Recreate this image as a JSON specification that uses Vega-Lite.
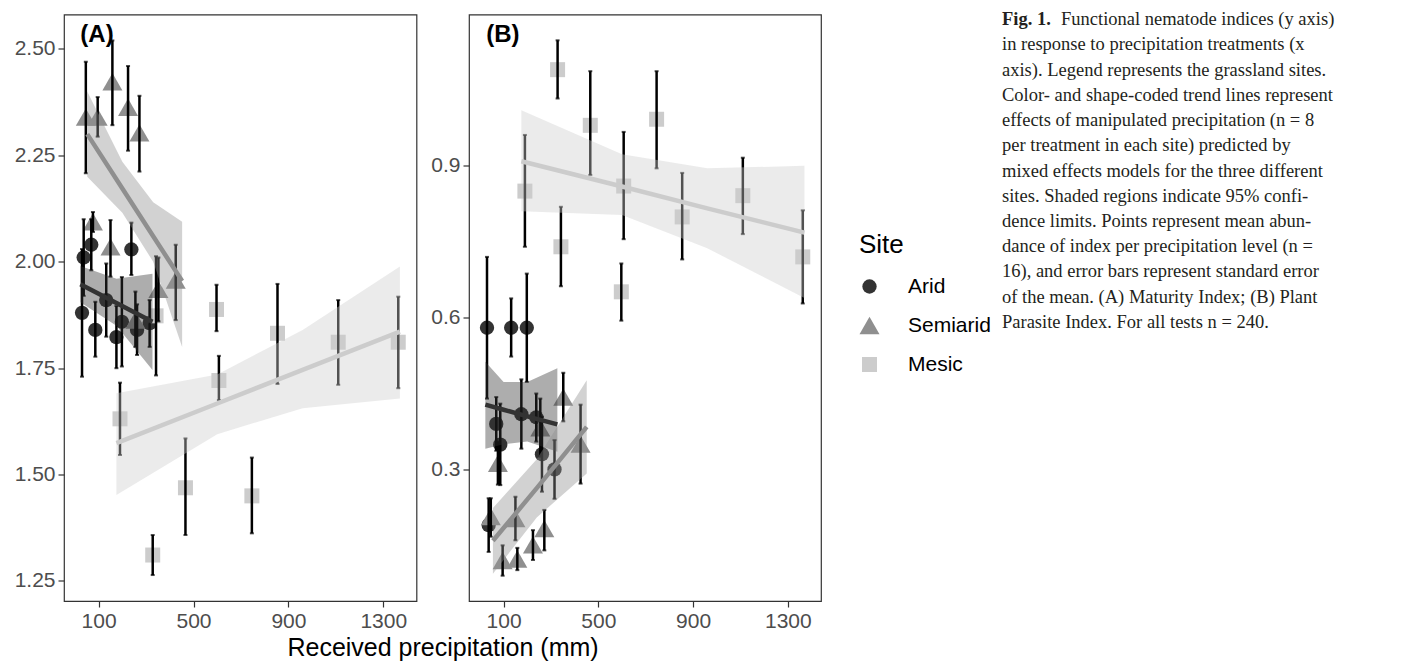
{
  "$schema": "https://vega.github.io/schema/vega-lite/v6.json",
  "background": "white",
  "padding": {"left": 13, "top": 9.5, "right": 0, "bottom": 0},
  "datasets": {
    "pts": [
      {"panel": "A", "site": "Arid", "x": 30, "y": 1.88, "lo": 1.73, "hi": 2.03},
      {"panel": "A", "site": "Arid", "x": 37, "y": 2.01, "lo": 1.92, "hi": 2.10},
      {"panel": "A", "site": "Arid", "x": 69, "y": 2.04, "lo": 1.98, "hi": 2.10},
      {"panel": "A", "site": "Arid", "x": 86, "y": 1.84, "lo": 1.777, "hi": 1.906},
      {"panel": "A", "site": "Arid", "x": 132, "y": 1.91, "lo": 1.824, "hi": 1.996},
      {"panel": "A", "site": "Arid", "x": 175, "y": 1.823, "lo": 1.75, "hi": 1.896},
      {"panel": "A", "site": "Arid", "x": 198, "y": 1.859, "lo": 1.754, "hi": 1.964},
      {"panel": "A", "site": "Arid", "x": 238, "y": 2.029, "lo": 1.969, "hi": 2.092},
      {"panel": "A", "site": "Arid", "x": 262, "y": 1.84, "lo": 1.781, "hi": 1.90},
      {"panel": "A", "site": "Arid", "x": 315, "y": 1.856, "lo": 1.80, "hi": 1.91},
      {"panel": "A", "site": "Semiarid", "x": 46, "y": 2.34, "lo": 2.208, "hi": 2.47},
      {"panel": "A", "site": "Semiarid", "x": 76, "y": 2.094, "lo": 2.07, "hi": 2.117},
      {"panel": "A", "site": "Semiarid", "x": 96, "y": 2.34, "lo": 2.294, "hi": 2.387},
      {"panel": "A", "site": "Semiarid", "x": 150, "y": 2.035, "lo": 1.965, "hi": 2.098},
      {"panel": "A", "site": "Semiarid", "x": 158, "y": 2.423, "lo": 2.321, "hi": 2.52},
      {"panel": "A", "site": "Semiarid", "x": 224, "y": 2.363, "lo": 2.261, "hi": 2.46},
      {"panel": "A", "site": "Semiarid", "x": 255, "y": 1.863, "lo": 1.80, "hi": 1.93},
      {"panel": "A", "site": "Semiarid", "x": 272, "y": 2.303, "lo": 2.212, "hi": 2.39},
      {"panel": "A", "site": "Semiarid", "x": 352, "y": 1.935, "lo": 1.86, "hi": 2.01},
      {"panel": "A", "site": "Semiarid", "x": 425, "y": 1.957, "lo": 1.863, "hi": 2.04},
      {"panel": "A", "site": "Mesic", "x": 190, "y": 1.631, "lo": 1.546, "hi": 1.716},
      {"panel": "A", "site": "Mesic", "x": 328, "y": 1.311, "lo": 1.264, "hi": 1.358},
      {"panel": "A", "site": "Mesic", "x": 342, "y": 1.873, "lo": 1.733, "hi": 2.013},
      {"panel": "A", "site": "Mesic", "x": 466, "y": 1.469, "lo": 1.358, "hi": 1.585},
      {"panel": "A", "site": "Mesic", "x": 597, "y": 1.888, "lo": 1.837, "hi": 1.946},
      {"panel": "A", "site": "Mesic", "x": 607, "y": 1.721, "lo": 1.675, "hi": 1.779},
      {"panel": "A", "site": "Mesic", "x": 746, "y": 1.45, "lo": 1.362, "hi": 1.54},
      {"panel": "A", "site": "Mesic", "x": 854, "y": 1.832, "lo": 1.713, "hi": 1.948},
      {"panel": "A", "site": "Mesic", "x": 1110, "y": 1.811, "lo": 1.711, "hi": 1.91},
      {"panel": "A", "site": "Mesic", "x": 1363, "y": 1.811, "lo": 1.703, "hi": 1.918},
      {"panel": "B", "site": "Arid", "x": 30, "y": 0.58, "lo": 0.44, "hi": 0.72},
      {"panel": "B", "site": "Arid", "x": 37, "y": 0.19, "lo": 0.137, "hi": 0.243},
      {"panel": "B", "site": "Arid", "x": 69, "y": 0.39, "lo": 0.337, "hi": 0.443},
      {"panel": "B", "site": "Arid", "x": 86, "y": 0.349, "lo": 0.269, "hi": 0.43},
      {"panel": "B", "site": "Arid", "x": 132, "y": 0.58, "lo": 0.523, "hi": 0.638},
      {"panel": "B", "site": "Arid", "x": 175, "y": 0.409, "lo": 0.341, "hi": 0.478},
      {"panel": "B", "site": "Arid", "x": 198, "y": 0.58, "lo": 0.473, "hi": 0.687},
      {"panel": "B", "site": "Arid", "x": 238, "y": 0.403, "lo": 0.355, "hi": 0.45},
      {"panel": "B", "site": "Arid", "x": 262, "y": 0.33, "lo": 0.256, "hi": 0.404},
      {"panel": "B", "site": "Arid", "x": 315, "y": 0.30, "lo": 0.242, "hi": 0.358},
      {"panel": "B", "site": "Semiarid", "x": 46, "y": 0.207, "lo": 0.167, "hi": 0.243},
      {"panel": "B", "site": "Semiarid", "x": 76, "y": 0.312, "lo": 0.27, "hi": 0.355},
      {"panel": "B", "site": "Semiarid", "x": 96, "y": 0.12, "lo": 0.09, "hi": 0.15},
      {"panel": "B", "site": "Semiarid", "x": 150, "y": 0.203, "lo": 0.16, "hi": 0.246},
      {"panel": "B", "site": "Semiarid", "x": 158, "y": 0.123, "lo": 0.101, "hi": 0.145},
      {"panel": "B", "site": "Semiarid", "x": 224, "y": 0.151, "lo": 0.121, "hi": 0.18},
      {"panel": "B", "site": "Semiarid", "x": 255, "y": 0.382, "lo": 0.325, "hi": 0.44},
      {"panel": "B", "site": "Semiarid", "x": 272, "y": 0.183, "lo": 0.14, "hi": 0.22},
      {"panel": "B", "site": "Semiarid", "x": 352, "y": 0.443, "lo": 0.395, "hi": 0.491},
      {"panel": "B", "site": "Semiarid", "x": 425, "y": 0.35, "lo": 0.272, "hi": 0.428},
      {"panel": "B", "site": "Mesic", "x": 190, "y": 0.85, "lo": 0.74, "hi": 0.961},
      {"panel": "B", "site": "Mesic", "x": 328, "y": 1.09, "lo": 1.033, "hi": 1.148},
      {"panel": "B", "site": "Mesic", "x": 342, "y": 0.74, "lo": 0.662, "hi": 0.819},
      {"panel": "B", "site": "Mesic", "x": 466, "y": 0.98, "lo": 0.882, "hi": 1.087},
      {"panel": "B", "site": "Mesic", "x": 597, "y": 0.651, "lo": 0.594, "hi": 0.707},
      {"panel": "B", "site": "Mesic", "x": 607, "y": 0.86, "lo": 0.755, "hi": 0.967},
      {"panel": "B", "site": "Mesic", "x": 746, "y": 0.992, "lo": 0.895, "hi": 1.087},
      {"panel": "B", "site": "Mesic", "x": 854, "y": 0.799, "lo": 0.715, "hi": 0.886},
      {"panel": "B", "site": "Mesic", "x": 1110, "y": 0.841, "lo": 0.765, "hi": 0.916},
      {"panel": "B", "site": "Mesic", "x": 1363, "y": 0.72, "lo": 0.628, "hi": 0.812}
    ],
    "fits": [
      {"panel": "A", "site": "Arid", "x": 23, "fit": 1.947, "lo": 1.905, "hi": 1.99},
      {"panel": "A", "site": "Arid", "x": 175, "fit": 1.903, "lo": 1.85, "hi": 1.96},
      {"panel": "A", "site": "Arid", "x": 327, "fit": 1.859, "lo": 1.746, "hi": 1.972},
      {"panel": "A", "site": "Semiarid", "x": 52, "fit": 2.30, "lo": 2.20, "hi": 2.40},
      {"panel": "A", "site": "Semiarid", "x": 200, "fit": 2.172, "lo": 2.115, "hi": 2.235},
      {"panel": "A", "site": "Semiarid", "x": 330, "fit": 2.06, "lo": 2.0, "hi": 2.14},
      {"panel": "A", "site": "Semiarid", "x": 452, "fit": 1.955, "lo": 1.80, "hi": 2.094},
      {"panel": "A", "site": "Mesic", "x": 175, "fit": 1.574, "lo": 1.452, "hi": 1.691},
      {"panel": "A", "site": "Mesic", "x": 600, "fit": 1.667, "lo": 1.595, "hi": 1.735},
      {"panel": "A", "site": "Mesic", "x": 960, "fit": 1.746, "lo": 1.656, "hi": 1.84},
      {"panel": "A", "site": "Mesic", "x": 1370, "fit": 1.836, "lo": 1.679, "hi": 1.989},
      {"panel": "B", "site": "Arid", "x": 23, "fit": 0.428, "lo": 0.341, "hi": 0.513},
      {"panel": "B", "site": "Arid", "x": 100, "fit": 0.418, "lo": 0.35, "hi": 0.473},
      {"panel": "B", "site": "Arid", "x": 200, "fit": 0.405, "lo": 0.355, "hi": 0.473},
      {"panel": "B", "site": "Arid", "x": 327, "fit": 0.389, "lo": 0.335, "hi": 0.50},
      {"panel": "B", "site": "Semiarid", "x": 55, "fit": 0.159, "lo": 0.094, "hi": 0.224},
      {"panel": "B", "site": "Semiarid", "x": 240, "fit": 0.263, "lo": 0.205, "hi": 0.32},
      {"panel": "B", "site": "Semiarid", "x": 451, "fit": 0.384, "lo": 0.292, "hi": 0.476},
      {"panel": "B", "site": "Mesic", "x": 175, "fit": 0.909, "lo": 0.81, "hi": 1.01},
      {"panel": "B", "site": "Mesic", "x": 600, "fit": 0.859, "lo": 0.803, "hi": 0.923},
      {"panel": "B", "site": "Mesic", "x": 960, "fit": 0.816, "lo": 0.737, "hi": 0.895},
      {"panel": "B", "site": "Mesic", "x": 1370, "fit": 0.768, "lo": 0.639, "hi": 0.90}
    ],
    "caption": [
      {"line": 1, "kind": "bold", "text": "Fig. 1."},
      {"line": 1, "kind": "lead", "text": "Functional nematode indices (y axis)"},
      {"line": 2, "kind": "body", "text": "in response to precipitation treatments (x"},
      {"line": 3, "kind": "body", "text": "axis). Legend represents the grassland sites."},
      {"line": 4, "kind": "body", "text": "Color- and shape-coded trend lines represent"},
      {"line": 5, "kind": "body", "text": "effects of manipulated precipitation (n = 8"},
      {"line": 6, "kind": "body", "text": "per treatment in each site) predicted by"},
      {"line": 7, "kind": "body", "text": "mixed effects models for the three different"},
      {"line": 8, "kind": "body", "text": "sites. Shaded regions indicate 95% confi-"},
      {"line": 9, "kind": "body", "text": "dence limits. Points represent mean abun-"},
      {"line": 10, "kind": "body", "text": "dance of index per precipitation level (n ="},
      {"line": 11, "kind": "body", "text": "16), and error bars represent standard error"},
      {"line": 12, "kind": "body", "text": "of the mean. (A) Maturity Index; (B) Plant"},
      {"line": 13, "kind": "body", "text": "Parasite Index. For all tests n = 240."}
    ]
  },
  "config": {
    "view": {"stroke": "#333333", "strokeWidth": 1.2},
    "axis": {"grid": false, "domain": false, "ticks": true, "tickColor": "#333333", "tickSize": 6, "tickWidth": 1.2, "labelFont": "Liberation Sans", "labelFontSize": 21, "labelColor": "#4d4d4d", "labelPadding": 3},
    "legend": {"titleFont": "Liberation Sans", "titleFontSize": 26, "titleFontWeight": "normal", "titleColor": "black", "labelFont": "Liberation Sans", "labelFontSize": 21, "labelColor": "black", "symbolSize": 330, "symbolOpacity": 1, "symbolStrokeWidth": 0, "rowPadding": 17, "titlePadding": 18, "labelOffset": 28}
  },
  "title": {"text": "Received precipitation (mm)", "orient": "bottom", "anchor": "start", "align": "center", "dx": 429.5, "offset": 4, "font": "Liberation Sans", "fontSize": 25, "fontWeight": "normal", "color": "black"},
  "resolve": {"scale": {"x": "independent", "y": "independent"}},
  "spacing": 180,
  "hconcat": [
    {
      "spacing": 12,
      "resolve": {"scale": {"x": "independent", "y": "independent"}},
      "hconcat": [
        {
          "width": 352.5,
          "height": 586.5,
          "layer": [
            {
              "data": {"name": "pts"},
              "transform": [{"filter": "datum.panel == 'A'"}],
              "mark": {"type": "point", "filled": true, "opacity": 1, "strokeWidth": 0},
              "encoding": {
                "x": {"field": "x", "type": "quantitative", "scale": {"domain": [-46, 1440], "nice": false, "zero": false}, "axis": {"values": [100, 500, 900, 1300], "format": ".0f", "title": null}},
                "y": {"field": "y", "type": "quantitative", "scale": {"domain": [1.203, 2.581], "nice": false, "zero": false}, "axis": {"values": [1.25, 1.5, 1.75, 2, 2.25, 2.5], "format": ".2f", "title": null}},
                "color": {"field": "site", "type": "nominal", "title": "Site", "scale": {"domain": ["Arid", "Semiarid", "Mesic"], "range": ["#333333", "#8f8f8f", "#cccccc"]}, "legend": {"orient": "none", "legendX": 795, "legendY": 217.5}},
                "shape": {"field": "site", "type": "nominal", "title": "Site", "scale": {"domain": ["Arid", "Semiarid", "Mesic"], "range": ["circle", "triangle-up", "square"]}, "legend": {"orient": "none", "legendX": 795, "legendY": 217.5}},
                "size": {"field": "site", "type": "nominal", "scale": {"type": "ordinal", "domain": ["Arid", "Semiarid", "Mesic"], "range": [205, 400, 225]}, "legend": null}
              }
            },
            {
              "data": {"name": "pts"},
              "transform": [{"filter": "datum.panel == 'A'"}],
              "mark": {"type": "errorbar", "color": "black", "ticks": {"size": 4, "thickness": 2}, "rule": {"strokeWidth": 2.5}},
              "encoding": {
                "x": {"field": "x", "type": "quantitative"},
                "y": {"field": "lo", "type": "quantitative"},
                "y2": {"field": "hi"}
              }
            },
            {
              "data": {"name": "fits"},
              "transform": [{"filter": "datum.panel == 'A'"}],
              "mark": {"type": "area", "opacity": 0.4},
              "encoding": {
                "x": {"field": "x", "type": "quantitative"},
                "y": {"field": "lo", "type": "quantitative", "stack": null},
                "y2": {"field": "hi"},
                "color": {"field": "site", "type": "nominal", "title": "Site"}
              }
            },
            {
              "data": {"name": "fits"},
              "transform": [{"filter": "datum.panel == 'A'"}],
              "mark": {"type": "line", "strokeWidth": 4.5},
              "encoding": {
                "x": {"field": "x", "type": "quantitative"},
                "y": {"field": "fit", "type": "quantitative"},
                "color": {"field": "site", "type": "nominal", "title": "Site"}
              }
            },
            {
              "data": {"values": [{"label": "(A)"}]},
              "mark": {"type": "text", "align": "left", "baseline": "middle", "font": "Liberation Sans", "fontSize": 24, "fontWeight": "bold", "color": "black"},
              "encoding": {
                "x": {"datum": 23},
                "y": {"datum": 2.533},
                "text": {"field": "label"}
              }
            }
          ]
        },
        {
          "width": 352,
          "height": 586.5,
          "layer": [
            {
              "data": {"name": "pts"},
              "transform": [{"filter": "datum.panel == 'B'"}],
              "mark": {"type": "point", "filled": true, "opacity": 1, "strokeWidth": 0},
              "encoding": {
                "x": {"field": "x", "type": "quantitative", "scale": {"domain": [-46, 1440], "nice": false, "zero": false}, "axis": {"values": [100, 500, 900, 1300], "format": ".0f", "title": null}},
                "y": {"field": "y", "type": "quantitative", "scale": {"domain": [0.04, 1.199], "nice": false, "zero": false}, "axis": {"values": [0.3, 0.6, 0.9], "format": ".1f", "title": null}},
                "color": {"field": "site", "type": "nominal", "title": "Site", "scale": {"domain": ["Arid", "Semiarid", "Mesic"], "range": ["#333333", "#8f8f8f", "#cccccc"]}, "legend": {"orient": "none", "legendX": 795, "legendY": 217.5}},
                "shape": {"field": "site", "type": "nominal", "title": "Site", "scale": {"domain": ["Arid", "Semiarid", "Mesic"], "range": ["circle", "triangle-up", "square"]}, "legend": {"orient": "none", "legendX": 795, "legendY": 217.5}},
                "size": {"field": "site", "type": "nominal", "scale": {"type": "ordinal", "domain": ["Arid", "Semiarid", "Mesic"], "range": [205, 400, 225]}, "legend": null}
              }
            },
            {
              "data": {"name": "pts"},
              "transform": [{"filter": "datum.panel == 'B'"}],
              "mark": {"type": "errorbar", "color": "black", "ticks": {"size": 4, "thickness": 2}, "rule": {"strokeWidth": 2.5}},
              "encoding": {
                "x": {"field": "x", "type": "quantitative"},
                "y": {"field": "lo", "type": "quantitative"},
                "y2": {"field": "hi"}
              }
            },
            {
              "data": {"name": "fits"},
              "transform": [{"filter": "datum.panel == 'B'"}],
              "mark": {"type": "area", "opacity": 0.4},
              "encoding": {
                "x": {"field": "x", "type": "quantitative"},
                "y": {"field": "lo", "type": "quantitative", "stack": null},
                "y2": {"field": "hi"},
                "color": {"field": "site", "type": "nominal", "title": "Site"}
              }
            },
            {
              "data": {"name": "fits"},
              "transform": [{"filter": "datum.panel == 'B'"}],
              "mark": {"type": "line", "strokeWidth": 4.5},
              "encoding": {
                "x": {"field": "x", "type": "quantitative"},
                "y": {"field": "fit", "type": "quantitative"},
                "color": {"field": "site", "type": "nominal", "title": "Site"}
              }
            },
            {
              "data": {"values": [{"label": "(B)"}]},
              "mark": {"type": "text", "align": "left", "baseline": "middle", "font": "Liberation Sans", "fontSize": 24, "fontWeight": "bold", "color": "black"},
              "encoding": {
                "x": {"datum": 27},
                "y": {"datum": 1.158},
                "text": {"field": "label"}
              }
            }
          ]
        }
      ]
    },
    {
      "width": 336,
      "height": 312,
      "view": {"stroke": null},
      "data": {"name": "caption"},
      "encoding": {
        "x": {"datum": 0, "type": "quantitative", "scale": {"domain": [0, 1]}, "axis": null},
        "y": {"field": "line", "type": "ordinal", "scale": {"type": "point", "padding": 0.18}, "axis": null},
        "text": {"field": "text"}
      },
      "layer": [
        {
          "transform": [{"filter": "datum.kind == 'body'"}],
          "mark": {"type": "text", "align": "left", "baseline": "middle", "font": "Liberation Serif", "fontSize": 18.5, "color": "#231f20"}
        },
        {
          "transform": [{"filter": "datum.kind == 'bold'"}],
          "mark": {"type": "text", "align": "left", "baseline": "middle", "font": "Liberation Serif", "fontSize": 18.5, "fontWeight": "bold", "color": "#231f20"}
        },
        {
          "transform": [{"filter": "datum.kind == 'lead'"}],
          "mark": {"type": "text", "align": "left", "baseline": "middle", "dx": 59, "font": "Liberation Serif", "fontSize": 18.5, "color": "#231f20"}
        }
      ]
    }
  ]
}
